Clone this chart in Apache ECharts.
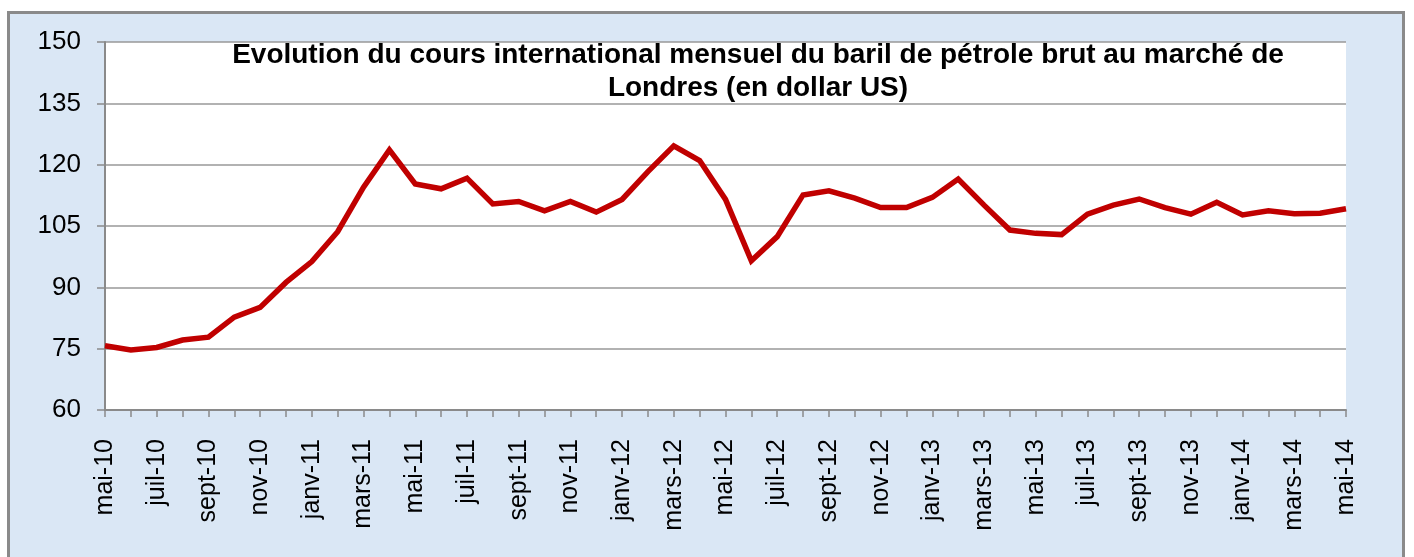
<!DOCTYPE html>
<html>
<head>
<meta charset="utf-8">
<title>Baril de pétrole brut - Londres</title>
<script src="https://cdn.jsdelivr.net/npm/echarts@6/dist/echarts.min.js"></script>
<style>
  html, body { margin: 0; padding: 0; background: #fff; }
  #chart { width: 1414px; height: 557px; }
</style>
</head>
<body>
<div id="chart"></div>
<script>
// mois (mai 2010 -> mai 2014)
const months = [
  'mai-10', 'juin-10', 'juil-10', 'août-10', 'sept-10', 'oct-10', 'nov-10', 'déc-10',
  'janv-11', 'févr-11', 'mars-11', 'avr-11', 'mai-11', 'juin-11', 'juil-11', 'août-11',
  'sept-11', 'oct-11', 'nov-11', 'déc-11', 'janv-12', 'févr-12', 'mars-12', 'avr-12',
  'mai-12', 'juin-12', 'juil-12', 'août-12', 'sept-12', 'oct-12', 'nov-12', 'déc-12',
  'janv-13', 'févr-13', 'mars-13', 'avr-13', 'mai-13', 'juin-13', 'juil-13', 'août-13',
  'sept-13', 'oct-13', 'nov-13', 'déc-13', 'janv-14', 'févr-14', 'mars-14', 'avr-14',
  'mai-14'
];

// cours mensuel du baril (dollar US)
const prices = [
  75.7, 74.7, 75.3, 77.1, 77.8, 82.7, 85.1, 91.2, 96.3, 103.6,
  114.5, 123.6, 115.3, 114.1, 116.7, 110.4, 111.0, 108.7, 111.0, 108.4,
  111.5, 118.3, 124.6, 121.0, 111.5, 96.5, 102.4, 112.6, 113.6, 111.8,
  109.5, 109.5, 112.0, 116.5, 110.1, 104.0, 103.2, 102.9, 107.9, 110.1,
  111.6, 109.5, 107.9, 110.8, 107.7, 108.7, 108.0, 108.1, 109.2
];

const yTicks = [60, 75, 90, 105, 120, 135, 150];

const titleText = 'Evolution du cours international mensuel du baril de pétrole brut au marché de\nLondres (en dollar US)';

const font = 'Liberation Sans, Arial, sans-serif';

const myChart = echarts.init(document.getElementById('chart'));

const option = {
  animation: false,
  backgroundColor: '#fff',
  graphic: [
    {
      type: 'rect',
      z: -10,
      silent: true,
      shape: { x: 8.5, y: 12.5, width: 1395, height: 560 },
      style: { fill: '#dae7f5', stroke: '#8a8a8a', lineWidth: 3 }
    }
  ],
  title: {
    text: titleText,
    left: 758,
    top: 39,
    padding: 0,
    textAlign: 'center',
    textStyle: {
      fontFamily: font,
      fontSize: 28,
      fontWeight: 'bold',
      color: '#000',
      lineHeight: 33
    }
  },
  grid: {
    left: 105,
    top: 42,
    right: 68,
    bottom: 147,
    show: true,
    backgroundColor: '#fff',
    borderWidth: 0
  },
  xAxis: {
    type: 'category',
    boundaryGap: false,
    data: months,
    axisLine: { lineStyle: { color: '#8a8a8a', width: 2 } },
    axisTick: { show: true, interval: 0, length: 7, lineStyle: { color: '#8a8a8a', width: 1.5 } },
    axisLabel: {
      interval: 1,
      rotate: 90,
      margin: 29,
      fontFamily: font,
      fontSize: 25,
      color: '#000'
    },
    splitLine: { show: false }
  },
  yAxis: {
    type: 'value',
    min: yTicks[0],
    max: yTicks[yTicks.length - 1],
    interval: 15,
    axisLine: { show: true, lineStyle: { color: '#8a8a8a', width: 2 } },
    axisTick: { show: true, length: 8, lineStyle: { color: '#8a8a8a', width: 1.5 } },
    axisLabel: {
      margin: 24,
      fontFamily: font,
      fontSize: 26,
      color: '#000'
    },
    splitLine: { lineStyle: { color: '#999', width: 1.5 } }
  },
  series: [
    {
      type: 'line',
      data: prices,
      symbol: 'none',
      lineStyle: { color: '#c00000', width: 5.5, join: 'miter' },
      itemStyle: { color: '#c00000' }
    }
  ]
};

myChart.setOption(option);
</script>
</body>
</html>
